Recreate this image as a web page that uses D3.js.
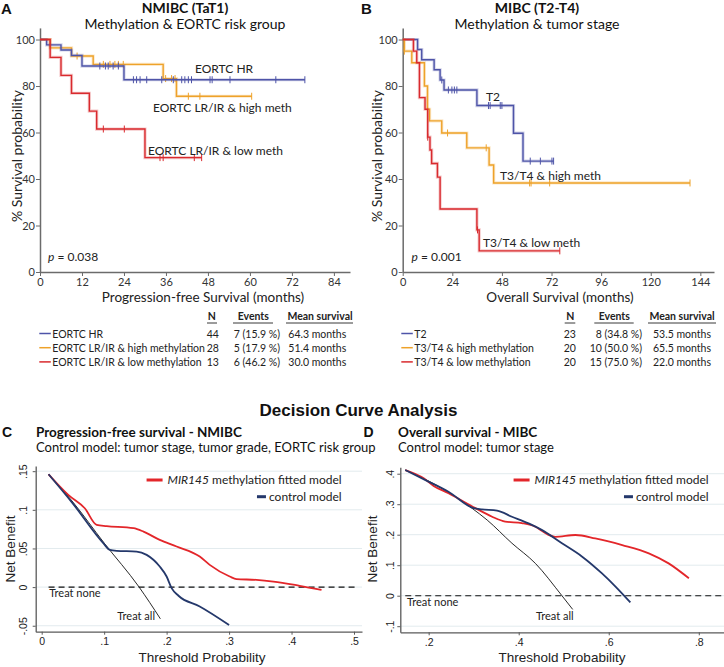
<!DOCTYPE html>
<html>
<head>
<meta charset="utf-8">
<script src="https://cdn.jsdelivr.net/npm/d3@7/dist/d3.min.js"></script>
<style>
body{margin:0;background:#fff;}
svg{display:block;}
</style>
</head>
<body>
<div id="viz-container"></div>
<script>
// ---------- data ----------
const survTicks = [0, 20, 40, 60, 80, 100];
const pfsTicks = [0, 12, 24, 36, 48, 60, 72, 84];
const osTicks = [0, 24, 48, 72, 96, 120, 144];

// A: NMIBC, [month, % survival] at each step
const hrSteps = [[0,100],[1.9,97.7],[6,95.5],[9,93.2],[12,88.6],[24,82.7]];
const hrEnd = 75.7;
const hrCensor = [17.1,18.7,19.5,20.9,22.4,26.7,27.6,28.6,30.5,34.8,38.1,40.5,41.4,42.4,43.3,48.6,49.2,54.3,67.4,75.7];

const highSteps = [[0,100],[2.9,96.4],[9,92.9],[15.2,89.3],[35.2,83.2],[39,75.6]];
const highEnd = 60.5;
const highCensor = [10.6,18.1,20,21.4,22.4,23.8,35.9,37.6,38.6,42.4,45.7,60.5];

const lowSteps = [[0,100],[2.9,92.3],[6,84.6],[9,76.9],[14.1,69.2],[16.2,61.5],[30,49.2]];
const lowEnd = 46.2;
const lowCensor = [18.1,24.1,34.3,35.2,44.1,46.2];

// B: MIBC
const t2Steps = [[0,100],[7.2,95.7],[9.2,91.3],[15.2,87],[18.1,82.6],[20,78.3],[35.9,71.6],[53.6,59.7],[58.2,47.7]];
const t2End = 73;
const t2Censor = [18.9,22.1,23.8,25,26.2,41.5,42.3,47.2,48,61.7,66.6,72.2,73];

const t34HighSteps = [[0,100],[0.8,95],[4.4,90],[10.5,80],[12,70],[13,65],[18.9,59.8],[31,53.4],[41.8,46],[44,38.3]];
const t34HighEnd = 139;
const t34HighCensor = [0.8,21.7,40.4,61.4,62.1,71.1,139];

const t34LowSteps = [[0,100],[5.2,95],[6.8,90],[8.1,75],[10.8,70],[12.1,58],[13.2,52.5],[14,46.7],[16.8,40.8],[18.1,27.1],[35.9,18.1],[37,9.1]];
const t34LowEnd = 76;
const t34LowCensor = [12.1,36.2,76];

// tables
const nmibcGroups = ["EORTC HR", "EORTC LR/IR & high methylation", "EORTC LR/IR & low methylation"];
const nmibcN = [44, 28, 13];
const nmibcEvents = ["7 (15.9 %)", "5 (17.9 %)", "6 (46.2 %)"];
const nmibcMean = ["64.3 months", "51.4 months", "30.0 months"];

const mibcGroups = ["T2", "T3/T4 & high methylation", "T3/T4 & low methylation"];
const mibcN = [23, 20, 20];
const mibcEvents = ["8 (34.8 %)", "10 (50.0 %)", "15 (75.0 %)"];
const mibcMean = ["53.5 months", "65.5 months", "22.0 months"];

// C: decision curves NMIBC, [threshold, net benefit]
const cTicksX = [0, .1, .2, .3, .4, .5];
const cTicksY = [-.05, 0, .05, .1, .15];
const cTreatAll = [[0.011,0.146],[0.05,0.11],[0.1,0.057],[0.156,0],[0.19,-0.041]];
const cModel = [[0.011,0.146],[0.043,0.119],[0.069,0.102],[0.088,0.0805],[0.104,0.079],[0.147,0.0762],[0.163,0.0718],[0.189,0.0611],[0.216,0.0525],[0.253,0.0395],[0.269,0.0288],[0.301,0.0137],[0.312,0.0103],[0.344,0.0094],[0.371,0.0072],[0.413,0.0017],[0.448,-0.0035]];
const cControl = [[0.011,0.146],[0.05,0.108],[0.0986,0.0569],[0.109,0.0482],[0.12,0.0469],[0.152,0.046],[0.168,0.0417],[0.189,0.0266],[0.2,0.0137],[0.208,-0.0013],[0.219,-0.0112],[0.253,-0.025],[0.3,-0.049]];
const cTreatNone = [0.011, 0.506];

// D: decision curves MIBC
const dTicksX = [.2, .4, .6, .8];
const dTicksY = [-.1, 0, .1, .2, .3, .4];
const dTreatAll = [[0.148,0.412],[0.22,0.36],[0.296,0.287],[0.33,0.248],[0.385,0.172],[0.437,0.106],[0.496,0],[0.52,-0.045]];
const dModel = [[0.148,0.412],[0.189,0.385],[0.211,0.36],[0.244,0.336],[0.304,0.287],[0.341,0.259],[0.37,0.243],[0.407,0.238],[0.437,0.226],[0.452,0.212],[0.481,0.193],[0.526,0.199],[0.57,0.188],[0.63,0.166],[0.689,0.139],[0.733,0.106],[0.778,0.057]];
const dControl = [[0.148,0.412],[0.193,0.379],[0.244,0.341],[0.3,0.287],[0.318,0.283],[0.352,0.279],[0.385,0.259],[0.422,0.237],[0.452,0.215],[0.496,0.172],[0.541,0.128],[0.585,0.073],[0.615,0.03],[0.648,-0.022]];
const dTreatNone = [0.148, 0.856];

// ---------- setup ----------
const calibri = "Lato, 'Open Sans', sans-serif";
const arial = "'Liberation Sans', Arial, sans-serif";
const kmBlue = "#4e54a8", kmOrange = "#eea22a", kmRed = "#d92a2e";
const dcaRed = "#e3262a", dcaNavy = "#24386b";

let viz = d3.select("#viz-container")
    .append("svg")
    .attr("width", 724)
    .attr("height", 667);

function addText(x, y, s, size, opt) {
    opt = opt || {};
    let t = viz.append("text")
        .attr("x", x).attr("y", y)
        .attr("font-family", opt.font || calibri)
        .attr("font-size", size)
        .attr("font-weight", opt.bold ? "bold" : "normal")
        .attr("fill", opt.color || "#222")
        .attr("text-anchor", opt.anchor || "start")
        .text(s);
    if (opt.rotate) t.attr("transform", "rotate(-90," + x + "," + y + ")");
    return t;
}

function survAt(steps, t) {
    let v = steps[0][1];
    steps.forEach(d => { if (d[0] <= t) v = d[1]; });
    return v;
}

// ---------- Kaplan-Meier panels ----------
function drawKM(x, y, xTicks, series) {
    let xAxisGroup = viz.append("g")
        .attr("transform", "translate(0," + y(0) + ")")
        .call(d3.axisBottom(x).tickValues(xTicks).tickSize(4).tickSizeOuter(0).tickPadding(2));
    let yAxisGroup = viz.append("g")
        .attr("transform", "translate(" + x(0) + ",0)")
        .call(d3.axisLeft(y).tickValues(survTicks).tickSize(4).tickSizeOuter(0).tickPadding(1));
    [xAxisGroup, yAxisGroup].forEach(a => {
        a.select(".domain").attr("stroke", "#6b6b6b").attr("stroke-width", 1.5);
        a.selectAll(".tick line").attr("stroke", "#6b6b6b");
        a.selectAll(".tick text").attr("font-family", calibri).attr("font-size", 11).attr("fill", "#333");
    });

    let line = d3.line().x(d => x(d[0])).y(d => y(d[1])).curve(d3.curveStepAfter);
    series.forEach(s => {
        let pts = s.steps.concat([[s.end, s.steps[s.steps.length - 1][1]]]);
        viz.append("path").datum(pts).attr("d", line)
            .attr("fill", "none").attr("stroke", s.color)
            .attr("stroke-width", 3.2).attr("stroke-opacity", 0.25);
        viz.append("path").datum(pts).attr("d", line)
            .attr("fill", "none").attr("stroke", s.color)
            .attr("stroke-width", 1.4);
        viz.selectAll(null).data(s.censor).enter().append("line")
            .attr("x1", d => x(d)).attr("x2", d => x(d))
            .attr("y1", d => y(survAt(s.steps, d)) - 3.5)
            .attr("y2", d => y(survAt(s.steps, d)) + 3.5)
            .attr("stroke", s.color).attr("stroke-width", 1);
    });
}

// A
let xA = d3.scaleLinear().domain([0, 88.6]).range([40, 350]);
let yKM = d3.scaleLinear().domain([0, 105]).range([272, 27.9]);
drawKM(xA, yKM, pfsTicks, [
    {steps: highSteps, end: highEnd, censor: highCensor, color: kmOrange},
    {steps: hrSteps, end: hrEnd, censor: hrCensor, color: kmBlue},
    {steps: lowSteps, end: lowEnd, censor: lowCensor, color: kmRed}
]);
addText(1, 13.5, "A", 15, {font: arial, bold: true, color: "#111"});
addText(185, 13, "NMIBC (TaT1)", 14, {bold: true, anchor: "middle", color: "#111"});
addText(185, 28.5, "Methylation & EORTC risk group", 14, {anchor: "middle", color: "#111"});
addText(17, 156, "% Survival probability", 14, {anchor: "middle", rotate: true}).attr("dy", "0.35em");
addText(203, 301.5, "Progression-free Survival (months)", 13.5, {anchor: "middle"});
addText(195, 72.5, "EORTC HR", 12);
addText(153, 111.5, "EORTC LR/IR & high meth", 12);
addText(148, 155, "EORTC LR/IR & low meth", 12);
let pA = addText(48, 261, "", 12);
pA.append("tspan").attr("font-style", "italic").text("p");
pA.append("tspan").text(" = 0.038");

// B
let xB = d3.scaleLinear().domain([0, 150.6]).range([402.7, 714]);
drawKM(xB, yKM, osTicks, [
    {steps: t2Steps, end: t2End, censor: t2Censor, color: kmBlue},
    {steps: t34HighSteps, end: t34HighEnd, censor: t34HighCensor, color: kmOrange},
    {steps: t34LowSteps, end: t34LowEnd, censor: t34LowCensor, color: kmRed}
]);
addText(361, 13.5, "B", 15, {font: arial, bold: true, color: "#111"});
addText(537, 13, "MIBC (T2-T4)", 14, {bold: true, anchor: "middle", color: "#111"});
addText(537, 28.5, "Methylation & tumor stage", 14, {anchor: "middle", color: "#111"});
addText(377, 156, "% Survival probability", 14, {anchor: "middle", rotate: true}).attr("dy", "0.35em");
addText(560, 301.5, "Overall Survival (months)", 13.5, {anchor: "middle"});
addText(486, 100.7, "T2", 12);
addText(500, 180, "T3/T4 & high meth", 12);
addText(483, 246.5, "T3/T4 & low meth", 12);
let pB = addText(411.5, 261, "", 12);
pB.append("tspan").attr("font-style", "italic").text("p");
pB.append("tspan").text(" = 0.001");

// ---------- tables ----------
function drawTable(t) {
    let hy = 320;
    addText(t.nC, hy, "N", 10.5, {bold: true, anchor: "middle"});
    addText(t.eC, hy, "Events", 10.5, {bold: true, anchor: "middle"});
    addText(t.mC, hy, "Mean survival", 10.5, {bold: true, anchor: "middle"});
    [t.nU, t.eU, t.mU].forEach(u => {
        viz.append("line").attr("x1", u[0]).attr("x2", u[1])
            .attr("y1", 323).attr("y2", 323)
            .attr("stroke", "#222").attr("stroke-width", 0.9);
    });
    let colors = [kmBlue, kmOrange, kmRed];
    t.groups.forEach((g, i) => {
        let by = 337.5 + i * 14.2;
        viz.append("line").attr("x1", t.sw).attr("x2", t.sw + 11.5)
            .attr("y1", by - 4).attr("y2", by - 4)
            .attr("stroke", colors[i]).attr("stroke-width", 1.5);
        addText(t.sw + 13, by, g, 10.5);
        addText(t.nX, by, t.n[i], 10.5);
        addText(t.eR, by, t.events[i], 10.5, {anchor: "end"});
        addText(t.mX, by, t.mean[i], 10.5);
    });
}
drawTable({groups: nmibcGroups, n: nmibcN, events: nmibcEvents, mean: nmibcMean,
    sw: 39.3, nX: 206.7, eR: 280, mX: 288.3, nC: 211.7, eC: 253.3, mC: 320,
    nU: [207, 217], eU: [233, 273], mU: [286, 353]});
drawTable({groups: mibcGroups, n: mibcN, events: mibcEvents, mean: mibcMean,
    sw: 401.3, nX: 563.7, eR: 642, mX: 653, nC: 570.3, eC: 614.3, mC: 682,
    nU: [564.7, 575.3], eU: [594.3, 633.7], mU: [648, 716]});

// ---------- decision curve panels ----------
function fmtDec(d) {
    if (d === 0) return "0";
    return (d < 0 ? "-" : "") + String(+Math.abs(d).toFixed(2)).replace(/^0/, "");
}

function drawDCA(x, y, xTicks, yTicks, lblShift, data) {
    yTicks.forEach(t => {
        viz.append("line").attr("x1", x.range()[0]).attr("x2", x.range()[1])
            .attr("y1", y(t)).attr("y2", y(t))
            .attr("stroke", "#e2ebee").attr("stroke-width", 1);
    });
    let xAxisGroup = viz.append("g")
        .attr("transform", "translate(0," + y.range()[0] + ")")
        .call(d3.axisBottom(x).tickValues(xTicks).tickSize(3).tickSizeOuter(0).tickFormat(fmtDec));
    let yAxisGroup = viz.append("g")
        .attr("transform", "translate(" + x.range()[0] + ",0)")
        .call(d3.axisLeft(y).tickValues(yTicks).tickSize(3).tickSizeOuter(0).tickFormat(fmtDec));
    yAxisGroup.selectAll(".tick text")
        .attr("x", 0).attr("dy", 0)
        .attr("text-anchor", "middle")
        .attr("transform", "translate(" + lblShift + ",0) rotate(-90)");
    [xAxisGroup, yAxisGroup].forEach(a => {
        a.select(".domain").attr("stroke", "#5a5a5a").attr("stroke-width", 1.3);
        a.selectAll(".tick line").attr("stroke", "#5a5a5a");
        a.selectAll(".tick text").attr("font-family", arial).attr("font-size", 10.5).attr("fill", "#222");
    });

    // treat none
    viz.append("line")
        .attr("x1", x(data.none[0])).attr("x2", x(data.none[1]))
        .attr("y1", y(0)).attr("y2", y(0))
        .attr("stroke", "#111").attr("stroke-width", 1.1)
        .attr("stroke-dasharray", "6,4");

    let line = d3.line().x(d => x(d[0])).y(d => y(d[1])).curve(d3.curveMonotoneX);
    viz.append("path").datum(data.all).attr("d", line)
        .attr("fill", "none").attr("stroke", "#111").attr("stroke-width", 0.9);
    viz.append("path").datum(data.model).attr("d", line)
        .attr("fill", "none").attr("stroke", dcaRed).attr("stroke-width", 1.8);
    viz.append("path").datum(data.control).attr("d", line)
        .attr("fill", "none").attr("stroke", dcaNavy).attr("stroke-width", 1.8);
}

function dcaLegend(right) {
    let t1 = addText(right, 484, "", 12, {anchor: "end"});
    t1.append("tspan").attr("font-style", "italic").text("MIR145");
    t1.append("tspan").text(" methylation fitted model");
    let w1 = t1.node().getComputedTextLength();
    viz.append("line").attr("x1", right - w1 - 21).attr("x2", right - w1 - 5)
        .attr("y1", 480).attr("y2", 480).attr("stroke", dcaRed).attr("stroke-width", 3);
    let t2 = addText(right, 500.5, "control model", 12, {anchor: "end"});
    let w2 = t2.node().getComputedTextLength();
    viz.append("line").attr("x1", right - w2 - 12).attr("x2", right - w2 - 3)
        .attr("y1", 496.7).attr("y2", 496.7).attr("stroke", dcaNavy).attr("stroke-width", 3);
}

addText(358.5, 416, "Decision Curve Analysis", 17, {font: arial, bold: true, anchor: "middle", color: "#111"});

// C
let xC = d3.scaleLinear().domain([-0.0096, 0.5128]).range([35.7, 362]);
let yC = d3.scaleLinear().domain([-0.0577, 0.1567]).range([631.7, 466]);
drawDCA(xC, yC, cTicksX, cTicksY, -8.5,
    {all: cTreatAll, model: cModel, control: cControl, none: cTreatNone});
addText(2, 436.7, "C", 14, {font: arial, bold: true, color: "#111"});
addText(36, 436.5, "Progression-free survival - NMIBC", 13.5, {bold: true, color: "#111"});
addText(36, 451.7, "Control model: tumor stage, tumor grade, EORTC risk group", 13, {color: "#111"});
dcaLegend(341.7);
addText(49.3, 597, "Treat none", 11);
addText(117.3, 620, "Treat all", 11);
addText(202, 661.5, "Threshold Probability", 13.5, {font: arial, anchor: "middle"});
addText(15, 549, "Net Benefit", 13.5, {font: arial, anchor: "middle", rotate: true});

// D
let xD = d3.scaleLinear().domain([0.137, 0.856]).range([400.3, 724]);
let yD = d3.scaleLinear().domain([-0.12, 0.421]).range([632.3, 467.3]);
drawDCA(xD, yD, dTicksX, dTicksY, -6.3,
    {all: dTreatAll, model: dModel, control: dControl, none: dTreatNone});
addText(363.5, 436.7, "D", 14, {font: arial, bold: true, color: "#111"});
addText(398, 436.5, "Overall survival - MIBC", 13.5, {bold: true, color: "#111"});
addText(398, 451.7, "Control model: tumor stage", 13, {color: "#111"});
dcaLegend(708.7);
addText(407, 606, "Treat none", 11);
addText(536, 620, "Treat all", 11);
addText(562, 661.5, "Threshold Probability", 13.5, {font: arial, anchor: "middle"});
addText(377, 549, "Net Benefit", 13.5, {font: arial, anchor: "middle", rotate: true});
</script>
</body>
</html>
